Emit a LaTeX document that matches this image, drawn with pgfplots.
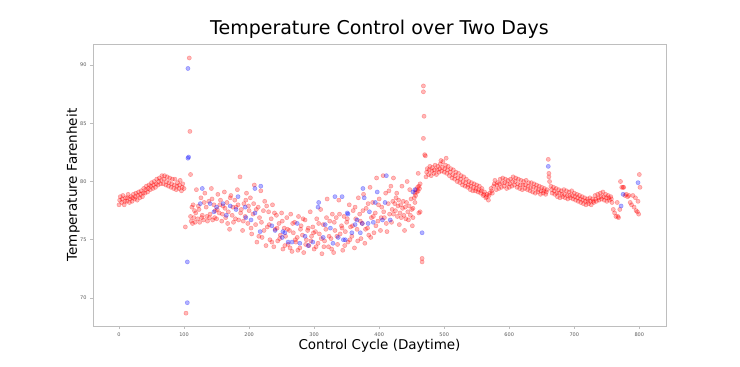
\documentclass[border=0pt]{standalone}
\usepackage{fontspec}
\setmainfont{DejaVu Sans}
\usepackage{pgfplots}
\usepackage{pgfplotstable}
\pgfplotsset{compat=1.18}
\definecolor{framegray}{RGB}{190,190,190}
\definecolor{ticktext}{RGB}{90,90,90}

\pgfplotstableread{
x y
0 78.0
1 78.4
2 78.7
4 78.2
5 78.5
6 78.8
8 78.0
9 78.3
10 78.6
12 78.3
13 78.6
14 78.9
16 78.2
17 78.5
18 78.7
20 78.3
21 78.6
22 78.9
24 78.5
25 78.7
26 79.0
28 78.4
29 78.8
30 79.1
32 78.6
33 78.9
34 79.2
36 78.7
37 79.0
38 79.4
40 79.0
41 79.3
42 79.6
44 79.1
45 79.4
46 79.7
48 79.3
49 79.6
50 79.9
52 79.4
53 79.7
54 80.0
56 79.5
57 79.8
58 80.2
60 79.7
61 80.0
62 80.3
64 79.8
65 80.1
66 80.5
68 79.8
69 80.2
70 80.5
72 79.7
73 80.0
74 80.4
76 79.6
77 79.9
78 80.3
80 79.5
81 79.8
82 80.2
84 79.4
85 79.7
86 80.2
88 79.3
89 79.6
90 79.9
92 79.4
93 79.7
94 80.1
96 79.2
97 79.5
98 79.8
100 79.4
102 76.1
103 68.7
108 90.6
109 84.3
110 80.6
110 77.0
111 76.6
112 77.8
113 76.4
114 78.0
115 76.9
116 77.5
117 76.5
118 77.3
119 79.3
121 76.8
122 77.9
123 77.6
124 76.5
126 78.6
127 76.9
128 77.1
130 76.7
131 78.2
132 79.0
134 77.8
135 77.0
136 76.6
138 78.3
139 76.9
140 77.2
142 79.4
143 78.5
144 76.7
146 78.0
147 76.9
148 77.5
150 76.8
151 77.6
152 78.9
154 77.3
155 78.0
156 78.4
158 76.6
159 77.2
160 77.9
162 79.1
163 77.7
164 76.9
166 78.2
167 76.4
168 77.4
170 75.9
171 78.6
172 78.8
174 77.1
175 77.8
176 76.5
178 78.4
179 76.8
180 77.8
182 79.3
183 78.0
184 76.7
186 80.4
187 77.3
188 77.6
190 75.8
191 76.6
192 78.1
194 77.0
195 78.4
196 79.0
198 76.4
199 77.9
200 77.5
202 78.6
203 76.0
204 75.5
206 77.2
207 78.1
208 79.7
210 76.3
211 77.6
212 74.8
214 77.8
215 75.3
216 76.9
218 79.2
219 76.5
220 75.2
222 77.5
223 75.8
224 78.3
226 74.5
227 77.9
228 76.1
230 77.4
231 76.3
232 75.0
234 76.8
235 74.8
236 78.0
238 74.4
239 77.3
240 75.9
242 77.1
243 76.0
244 74.9
246 76.4
247 75.1
248 75.4
250 77.3
251 76.6
252 74.2
254 76.0
255 74.5
256 75.3
258 76.9
259 75.9
260 74.6
262 75.8
263 74.3
264 77.2
266 74.0
267 76.4
268 75.6
270 76.5
271 75.0
272 74.8
274 75.2
275 74.1
276 77.0
278 74.3
279 75.9
280 76.2
282 75.4
283 76.8
284 73.9
286 76.7
287 74.6
288 75.0
290 75.8
291 76.0
292 74.5
294 77.4
295 74.9
296 75.3
298 76.1
299 75.6
300 74.2
302 75.7
303 74.4
304 76.8
306 74.7
307 76.4
308 75.5
310 77.6
311 75.1
312 73.8
314 76.3
315 74.4
316 74.9
318 75.9
319 76.9
320 78.5
322 74.4
323 75.3
324 76.6
326 75.1
327 74.2
328 77.2
330 73.9
331 76.5
332 75.8
334 76.9
335 75.3
336 74.6
338 78.4
339 77.2
340 75.5
342 76.2
343 76.0
344 74.1
346 77.0
347 74.5
348 75.7
350 76.5
351 76.8
352 74.8
354 78.0
355 75.0
356 76.1
358 75.3
359 76.2
360 77.5
362 74.3
363 77.8
364 76.8
366 75.9
367 74.9
368 78.6
370 77.2
371 76.6
372 75.1
374 76.4
375 77.5
376 78.9
378 74.7
379 75.9
380 77.7
382 76.0
383 78.1
384 75.4
386 79.5
387 75.2
388 76.9
390 78.2
391 77.0
392 75.6
394 77.3
395 76.2
396 80.3
398 76.6
399 78.0
400 78.5
402 75.8
403 76.9
404 77.8
406 80.5
407 77.4
408 76.9
410 79.0
411 76.4
412 75.7
414 78.1
415 79.2
416 77.2
418 79.6
419 76.5
420 77.6
421 78.3
422 77.2
422 80.3
424 78.1
425 77.5
426 78.6
427 79.0
428 77.0
429 77.9
430 78.4
431 76.3
432 77.3
433 78.0
434 76.9
435 79.6
436 77.7
437 78.3
438 77.1
439 75.8
440 77.8
441 76.8
442 78.2
443 80.0
444 77.4
445 76.7
446 77.9
447 79.3
448 77.1
449 78.5
450 77.6
451 76.2
452 76.9
452 77.7
454 78.6
455 79.0
455 78.2
456 78.8
457 79.3
458 79.1
459 79.5
460 79.2
460 80.7
461 79.6
461 77.3
462 79.4
463 79.8
463 77.4
466 73.4
466 73.1
468 88.2
468 87.7
469 85.6
468 83.7
470 82.3
471 82.2
472 80.4
473 80.8
474 81.1
476 80.6
477 81.0
478 81.3
480 80.5
481 80.9
482 81.2
484 80.7
485 81.0
486 81.4
488 80.6
489 81.0
490 81.3
492 80.8
493 81.1
494 81.5
495 81.8
496 80.9
497 81.2
498 81.7
500 80.8
501 81.1
502 81.4
503 82.0
504 80.7
505 81.0
506 81.3
508 80.5
509 80.8
510 81.1
512 80.3
513 80.6
514 81.0
516 80.2
517 80.5
518 80.8
520 80.0
521 80.3
522 80.7
524 79.9
525 80.2
526 80.5
528 79.7
529 80.0
530 80.4
532 79.6
533 79.9
534 80.2
536 79.5
537 79.7
538 80.0
540 79.3
541 79.6
542 79.9
544 79.2
545 79.5
546 79.8
548 79.2
549 79.4
550 79.7
552 79.1
553 79.3
554 79.6
556 79.0
557 79.2
558 79.4
560 78.8
561 78.9
562 79.1
564 78.6
565 78.7
566 78.9
568 78.4
569 78.8
570 79.0
572 79.4
573 79.2
574 79.0
576 79.6
577 79.8
578 80.1
580 79.3
581 79.7
582 79.9
584 79.4
585 79.8
586 80.2
588 79.5
589 79.9
590 80.3
592 79.6
593 79.9
594 80.2
596 79.4
597 79.8
598 80.1
600 79.5
601 79.8
602 80.2
604 79.6
605 80.0
606 80.4
608 79.7
609 80.0
610 80.3
612 79.5
613 79.8
614 80.2
616 79.4
617 79.7
618 80.1
620 79.3
621 79.7
622 80.0
624 79.4
625 79.7
626 80.1
628 79.3
629 79.6
630 79.9
632 79.2
633 79.5
634 79.9
636 79.1
637 79.5
638 79.8
640 79.0
641 79.4
642 79.7
644 79.1
645 79.3
646 79.6
648 78.9
649 79.2
650 79.5
652 79.0
653 79.2
654 79.4
656 78.9
657 79.1
658 79.3
660 81.9
661 80.7
661 80.4
662 80.0
664 79.6
665 79.3
666 79.0
668 79.5
669 79.2
670 78.9
672 79.4
673 79.0
674 78.7
676 79.3
677 79.0
678 78.6
680 79.2
681 78.9
682 78.7
684 79.3
685 78.9
686 78.6
688 79.2
689 78.8
690 78.5
692 79.1
693 78.8
694 78.6
696 79.2
697 78.8
698 78.5
700 79.0
701 78.7
702 78.4
704 78.9
705 78.6
706 78.3
708 78.8
709 78.5
710 78.2
712 78.7
713 78.4
714 78.1
716 78.6
717 78.3
718 78.0
720 78.5
721 78.3
722 78.1
724 78.6
725 78.3
726 78.0
728 78.5
729 78.3
730 78.2
732 78.8
733 78.5
734 78.3
736 78.9
737 78.6
738 78.4
740 79.0
741 78.7
742 78.5
744 79.1
745 78.7
746 78.4
748 78.9
749 78.6
750 78.3
752 78.8
753 78.6
754 78.4
756 78.7
757 78.5
758 78.2
760 77.6
762 77.3
764 77.0
766 78.2
767 77.0
768 76.9
770 77.6
771 80.0
773 79.5
775 79.5
776 79.5
778 78.8
780 78.9
782 78.7
784 78.8
786 78.2
788 78.0
790 78.8
792 77.8
794 78.6
795 77.5
797 77.4
798 78.3
799 77.2
800 80.6
801 79.5
}\reddata

\pgfplotstableread{
x y
105 73.1
105 69.6
106 89.7
106 82.0
107 82.1
125 78.1
128 79.4
140 78.1
146 77.4
150 77.8
160 78.1
165 77.1
171 77.9
180 77.6
183 78.7
194 77.8
195 76.9
203 76.7
209 77.3
209 79.4
218 79.6
217 75.7
235 76.2
240 75.8
251 75.2
252 75.7
255 75.6
260 74.8
266 74.8
274 76.4
278 74.7
286 75.3
291 74.5
298 74.8
306 77.8
307 78.2
314 75.2
317 76.3
325 76.0
329 74.7
332 78.7
337 75.2
343 78.7
345 75.0
348 75.0
351 77.3
352 77.2
358 75.6
363 76.3
366 76.7
371 75.6
374 76.4
375 79.4
377 78.6
383 76.4
385 77.4
391 76.5
394 78.2
397 79.1
405 76.7
409 78.2
411 80.5
417 76.7
452 79.1
455 79.3
466 75.6
660 81.3
772 77.9
775 78.9
798 79.9
}\bluedata

\begin{document}
\begin{tikzpicture}[x=1pt,y=1pt]
\path[use as bounding box] (0,0) rectangle (740,367);
\begin{axis}[
  at={(93pt,41pt)}, anchor=south west,
  scale only axis, width=573pt, height=282pt,
  xmin=-40, xmax=841, ymin=67.6, ymax=91.8,
  xtick={0,100,...,800}, ytick={70,75,80,85,90},
  tick align=outside, xtick pos=bottom, ytick pos=left,
  major tick length=3pt,
  tick style={framegray, line width=0.6pt},
  axis line style={framegray, line width=0.8pt},
  ticklabel style={font=\fontsize{5}{6}\selectfont, text=ticktext},
  /pgf/number format/assume math mode=true,
  title={Temperature Control over Two Days},
  title style={at={(axis description cs:0.5,1)}, anchor=base, yshift=3pt, font=\fontsize{19}{23}\selectfont},
  xlabel={Control Cycle (Daytime)},
  xlabel style={at={(axis description cs:0.5,0)}, anchor=base, yshift=-24pt, font=\fontsize{13.5}{16}\selectfont},
  ylabel={Temperature Farenheit},
  ylabel style={at={(axis description cs:-0.028,0.5)}, anchor=base, rotate=0, font=\fontsize{13.5}{16}\selectfont},
  clip=false,
]
\addplot[only marks, mark=*, mark size=2.1pt, mark options={fill=red, draw=red, fill opacity=0.28, draw opacity=0.3, line width=0.5pt}] table[x=x,y=y] {\reddata};
\addplot[only marks, mark=*, mark size=2.1pt, mark options={fill=blue, draw=blue, fill opacity=0.3, draw opacity=0.3, line width=0.5pt}] table[x=x,y=y] {\bluedata};
\end{axis}
\end{tikzpicture}
\end{document}
